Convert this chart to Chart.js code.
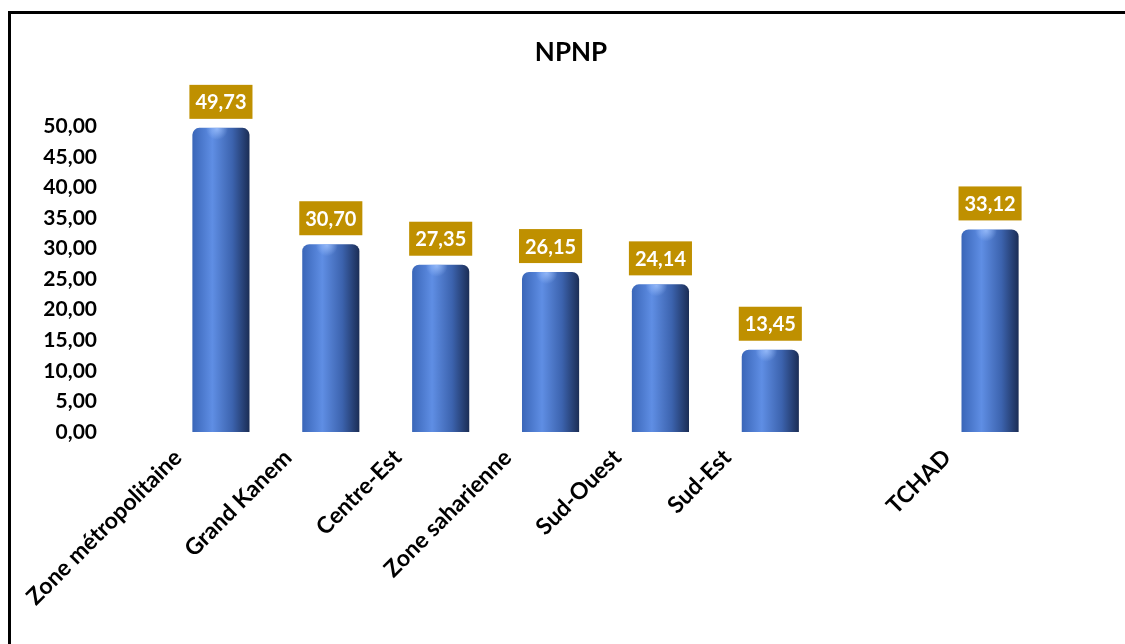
<!DOCTYPE html>
<html lang="fr">

<head>
  <meta charset="UTF-8">
  <script src="https://cdn.jsdelivr.net/npm/chart.js"></script>
  <title>NPNP</title>
  <style>
    body { margin: 0; background: #fff; overflow: hidden; }
    #cadre {
      position: absolute; left: 8px; top: 11px; width: 1200px; height: 700px;
      border-left: 3px solid #000; border-top: 3px solid #000; pointer-events: none;
    }
    #myChart { position: absolute; left: 0; top: 0; }
  </style>
</head>

<body>
  <canvas id="myChart" width="1125" height="644"></canvas>
  <div id="cadre"></div>
</body>

</html>
<script>
  // donnees
  var zones = ["Zone métropolitaine", "Grand Kanem", "Centre-Est", "Zone saharienne", "Sud-Ouest", "Sud-Est", "", "TCHAD"]
  var valeursNPNP = [49.73, 30.70, 27.35, 26.15, 24.14, 13.45, null, 33.12]
  var ticksY = [0, 5, 10, 15, 20, 25, 30, 35, 40, 45, 50]

  var police = "Lato, 'Open Sans', sans-serif"
  var largeurBarre = 0.52

  function virgule(v) {
    return v.toFixed(2).replace(".", ",")
  }

  // degrade horizontal pour l'effet cylindre
  function degradeBarre(context) {
    const chart = context.chart
    if (!chart.chartArea || !chart.scales.x) return "#4a78cc"
    const xs = chart.scales.x
    const cx = xs.getPixelForValue(context.dataIndex)
    const w = (xs.width / zones.length) * largeurBarre
    const g = chart.ctx.createLinearGradient(cx - w / 2, 0, cx + w / 2, 0)
    g.addColorStop(0, "#3a66b8")
    g.addColorStop(0.35, "#5f8ee4")
    g.addColorStop(0.7, "#3c63ae")
    g.addColorStop(1, "#1b2d55")
    return g
  }

  // etiquettes de valeur dans un cadre dore
  const etiquettes = {
    id: "etiquettes",
    afterDatasetsDraw(chart) {
      const ctx = chart.ctx
      const meta = chart.getDatasetMeta(0)
      ctx.save()
      ctx.font = "bold 20px " + police
      ctx.textAlign = "center"
      ctx.textBaseline = "middle"
      meta.data.forEach((bar, i) => {
        const v = valeursNPNP[i]
        if (v === null) return
        // petit reflet sur le haut du cylindre
        const r = ctx.createRadialGradient(bar.x - 4, bar.y + 1, 0, bar.x - 4, bar.y + 1, 11)
        r.addColorStop(0, "rgba(160,195,255,0.8)")
        r.addColorStop(1, "rgba(160,195,255,0)")
        ctx.fillStyle = r
        ctx.fillRect(bar.x - 16, bar.y, 24, 12)

        const txt = virgule(v)
        const tw = ctx.measureText(txt).width
        const bw = tw + 12, bh = 34
        const bx = bar.x - bw / 2, by = bar.y - 9 - bh
        ctx.fillStyle = "#BF9000"
        ctx.fillRect(bx, by, bw, bh)
        ctx.fillStyle = "#ffffff"
        ctx.fillText(txt, bar.x, by + bh / 2 + 1)
      })
      ctx.restore()
    }
  }

  const ctx = document.getElementById("myChart")
  const myChart = new Chart(ctx, {
    type: "bar",
    data: {
      labels: zones,
      datasets: [{
        label: "NPNP",
        data: valeursNPNP,
        backgroundColor: degradeBarre,
        borderRadius: { topLeft: 7, topRight: 7, bottomLeft: 0, bottomRight: 0 },
        borderSkipped: "start",
        barPercentage: largeurBarre,
        categoryPercentage: 1,
      }],
    },
    options: {
      responsive: false,
      animation: false,
      layout: {
        autoPadding: false,
        padding: { top: 0, right: 0, left: 17, bottom: 0 },
      },
      plugins: {
        legend: { display: false },
        tooltip: { enabled: false },
        title: {
          display: true,
          text: "NPNP",
          color: "#000",
          font: { family: police, size: 26, weight: "bold" },
          padding: { top: 37, bottom: 58 },
        },
      },
      scales: {
        x: {
          grid: { display: false },
          border: { display: false },
          ticks: {
            autoSkip: false,
            maxRotation: 45,
            minRotation: 45,
            labelOffset: -43,
            padding: 4,
            color: "#000",
            font: { family: police, size: 23, weight: "bold" },
          },
          afterFit(scale) {
            scale.height = 212
            scale.paddingLeft = 0
            scale.paddingRight = 0
          },
        },
        y: {
          min: 0,
          max: 50,
          grid: { display: false, drawTicks: false },
          border: { display: false },
          afterBuildTicks(scale) {
            scale.ticks = ticksY.map(v => ({ value: v }))
          },
          ticks: {
            autoSkip: false,
            padding: 69,
            color: "#000",
            font: { family: police, size: 21, weight: "bold" },
            callback: v => virgule(v),
          },
          afterFit(scale) {
            scale.width = 149
          },
        },
        // axe vide a droite : marge blanche comme dans l'original
        yDroite: {
          position: "right",
          min: 0,
          max: 50,
          grid: { display: false, drawTicks: false },
          border: { display: false },
          ticks: { display: false },
          afterFit(scale) {
            scale.width = 80
          },
        },
      },
    },
    plugins: [etiquettes],
  })
</script>
